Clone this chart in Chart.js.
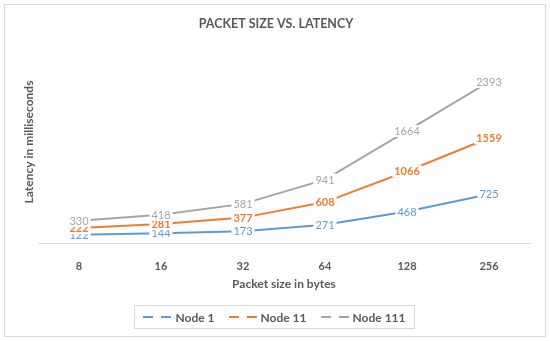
<!DOCTYPE html>
<html>
<head>
<meta charset="utf-8">
<script src="https://cdn.jsdelivr.net/npm/chart.js@4"></script>
<style>
  html, body { margin: 0; padding: 0; background: #fff; }
  #wrap { position: relative; width: 550px; height: 341px; font-family: Lato, "Open Sans", sans-serif; }
  #frame { position: absolute; left: 4px; top: 4px; width: 540px; height: 331px; border: 1px solid #d9d9d9; pointer-events: none; }
  #legend { position: absolute; left: 134px; top: 305px; width: 279px; height: 22px; border: 1px solid #d9d9d9;
    display: flex; align-items: center; justify-content: center; gap: 14px; font-size: 12px; font-weight: bold; color: #595959; }
  #legend span { display: flex; align-items: center; gap: 2px; }
</style>
</head>
<body>
<div id="wrap">
  <canvas id="latency-chart" width="550" height="341"></canvas>
  <div id="frame"></div>
  <div id="legend"></div>
</div>
<script>
// ===== data =====
const packetSizes = ['8', '16', '32', '64', '128', '256'];
const node1 = [122, 144, 173, 271, 468, 725];
const node11 = [222, 281, 377, 608, 1066, 1559];
const node111 = [330, 418, 581, 941, 1664, 2393];
const seriesNames = ['Node 1', 'Node 11', 'Node 111'];
const seriesColors = ['#5B9BD5', '#ED7D31', '#A5A5A5'];

// labels sitting on each point, white box behind so the line breaks
const pointLabels = {
  id: 'pointLabels',
  afterDatasetsDraw(chart) {
    const ctx = chart.ctx;
    ctx.save();
    ctx.textAlign = 'center';
    ctx.textBaseline = 'middle';
    chart.data.datasets.forEach((ds, i) => {
      const meta = chart.getDatasetMeta(i);
      ctx.font = (i === 1 ? 'bold ' : '') + '11px Lato, "Open Sans", sans-serif';
      meta.data.forEach((pt, j) => {
        const txt = String(ds.data[j]);
        const w = ctx.measureText(txt).width + 4;
        ctx.fillStyle = '#fff';
        ctx.fillRect(pt.x - w / 2, pt.y - 6, w, 12);
        ctx.fillStyle = ds.borderColor;
        ctx.fillText(txt, pt.x, pt.y + 0.5);
      });
    });
    ctx.restore();
  }
};

const ctx = document.getElementById('latency-chart').getContext('2d');
const latencyChart = new Chart(ctx, {
  type: 'line',
  data: {
    labels: packetSizes,
    datasets: [node1, node11, node111].map((d, i) => ({
      label: seriesNames[i],
      data: d,
      borderColor: seriesColors[i],
      backgroundColor: seriesColors[i],
      borderWidth: 2,
      pointRadius: 0,
      tension: 0
    }))
  },
  options: {
    responsive: false,
    animation: false,
    layout: { padding: { left: 22, right: 20, top: 0, bottom: 46 } },
    plugins: {
      legend: { display: false },
      tooltip: { enabled: false },
      title: {
        display: true,
        text: 'PACKET SIZE VS. LATENCY',
        color: '#595959',
        font: { family: 'Lato, "Open Sans", sans-serif', size: 12.5, weight: 'bold' },
        padding: { top: 16, bottom: 10 }
      }
    },
    scales: {
      x: {
        offset: true,
        grid: { display: false },
        border: { display: true, color: '#d9d9d9', width: 1 },
        ticks: { color: '#595959', padding: 9, font: { family: 'Lato, "Open Sans", sans-serif', size: 11, weight: 'bold' } },
        title: {
          display: true, text: 'Packet size in bytes', color: '#595959',
          font: { family: 'Lato, "Open Sans", sans-serif', size: 12, weight: 'bold' }, padding: { top: 6 }
        },
        afterFit: (s) => { s.height = 52; }
      },
      y: {
        min: 0, max: 3000,
        grid: { display: false },
        border: { display: false },
        ticks: { display: false },
        title: {
          display: true, text: 'Latency in milliseconds', color: '#595959', padding: 0,
          font: { family: 'Lato, "Open Sans", sans-serif', size: 12, weight: 'bold' }
        },
        afterFit: (s) => { s.width = 16; }
      }
    }
  },
  plugins: [pointLabels]
});

// html legend with dashed line samples
const legendEl = document.getElementById('legend');
seriesNames.forEach((name, i) => {
  const item = document.createElement('span');
  item.innerHTML = '<svg width="30" height="4"><line x1="0" y1="2" x2="30" y2="2" stroke="' + seriesColors[i] +
    '" stroke-width="2" stroke-dasharray="10 8"/></svg>' + name;
  legendEl.appendChild(item);
});
</script>
</body>
</html>
